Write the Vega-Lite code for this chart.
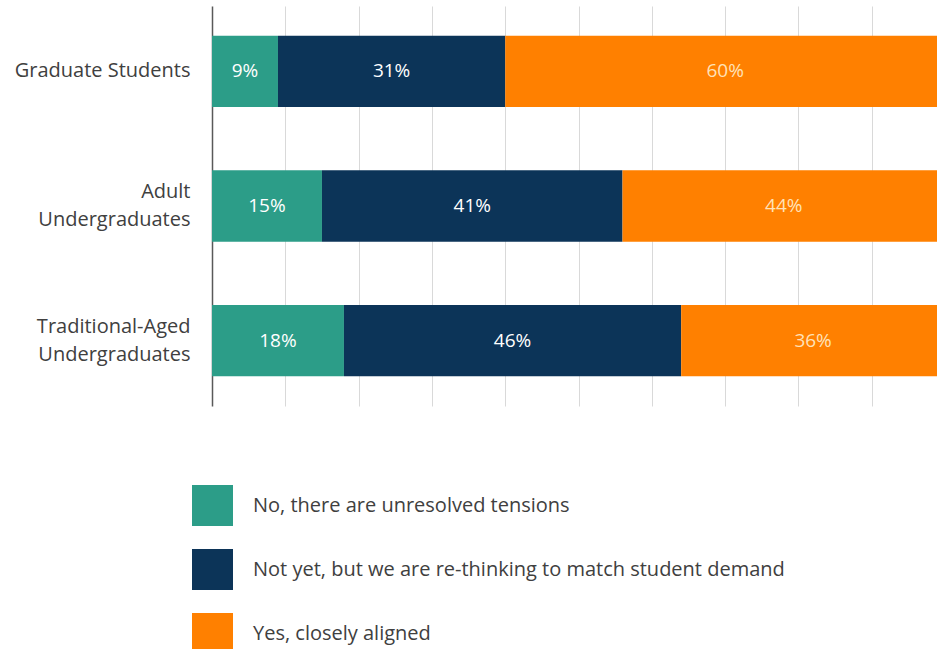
{
  "$schema": "https://vega.github.io/schema/vega-lite/v6.json",
  "width": 725,
  "height": 400,
  "autosize": {"type": "none"},
  "padding": {"left": 212, "top": 6, "right": 0, "bottom": 243},
  "background": "white",
  "config": {"view": {"stroke": null}, "font": "Open Sans"},
  "data": {
    "values": [
      {"group": "Graduate Students", "cat": "No, there are unresolved tensions", "value": 0.09},
      {"group": "Graduate Students", "cat": "Not yet, but we are re-thinking to match student demand", "value": 0.31},
      {"group": "Graduate Students", "cat": "Yes, closely aligned", "value": 0.60},
      {"group": "Adult Undergraduates", "cat": "No, there are unresolved tensions", "value": 0.15},
      {"group": "Adult Undergraduates", "cat": "Not yet, but we are re-thinking to match student demand", "value": 0.41},
      {"group": "Adult Undergraduates", "cat": "Yes, closely aligned", "value": 0.44},
      {"group": "Traditional-Aged Undergraduates", "cat": "No, there are unresolved tensions", "value": 0.18},
      {"group": "Traditional-Aged Undergraduates", "cat": "Not yet, but we are re-thinking to match student demand", "value": 0.46},
      {"group": "Traditional-Aged Undergraduates", "cat": "Yes, closely aligned", "value": 0.36}
    ]
  },
  "encoding": {
    "y": {
      "field": "group",
      "type": "nominal",
      "sort": null,
      "scale": {"paddingInner": 0.47, "paddingOuter": 0.22},
      "axis": {
        "title": null,
        "labelFontSize": 20,
        "labelColor": "#404040",
        "labelPadding": 22,
        "ticks": false,
        "domainColor": "#595959",
        "domainWidth": 1.5,
        "labelLimit": 300,
        "labelLineHeight": 28,
        "labelOffset": {"condition": {"test": "datum.value != 'Graduate Students'", "value": -14}, "value": 0},
        "labelExpr": "datum.value == 'Adult Undergraduates' ? ['Adult', 'Undergraduates'] : datum.value == 'Traditional-Aged Undergraduates' ? ['Traditional-Aged', 'Undergraduates'] : datum.value"
      }
    }
  },
  "layer": [
    {
      "mark": {"type": "bar", "clip": true},
      "encoding": {
        "x": {
          "field": "value",
          "type": "quantitative",
          "stack": "zero",
          "scale": {"domain": [0, 0.989], "nice": false},
          "axis": {
            "title": null,
            "labels": false,
            "ticks": false,
            "domain": false,
            "grid": true,
            "gridColor": "#D9D9D9",
            "values": [0.1, 0.2, 0.3, 0.4, 0.5, 0.6, 0.7, 0.8, 0.9]
          }
        },
        "order": {"field": "cat", "sort": "ascending"},
        "color": {
          "field": "cat",
          "type": "nominal",
          "scale": {
            "domain": ["No, there are unresolved tensions", "Not yet, but we are re-thinking to match student demand", "Yes, closely aligned"],
            "range": ["#2C9D88", "#0C3458", "#FF8000"]
          },
          "legend": {
            "title": null,
            "orient": "none",
            "legendX": -20,
            "legendY": 479,
            "symbolType": "square",
            "symbolSize": 1681,
            "symbolStrokeWidth": 0,
            "symbolOpacity": 1,
            "labelFontSize": 20,
            "labelColor": "#404040",
            "labelOffset": 20,
            "rowPadding": 23,
            "labelLimit": 700
          }
        }
      }
    },
    {
      "mark": {"type": "text", "fontSize": 19, "clip": true},
      "encoding": {
        "x": {"field": "value", "type": "quantitative", "stack": "zero", "bandPosition": 0.5},
        "detail": {"field": "cat", "type": "nominal"},
        "order": {"field": "cat", "sort": "ascending"},
        "text": {"field": "value", "type": "quantitative", "format": ".0%"},
        "color": {
          "condition": {"test": "datum.cat == 'Yes, closely aligned'", "value": "#FFE2B8"},
          "value": "#FFFFFF"
        }
      }
    }
  ]
}
